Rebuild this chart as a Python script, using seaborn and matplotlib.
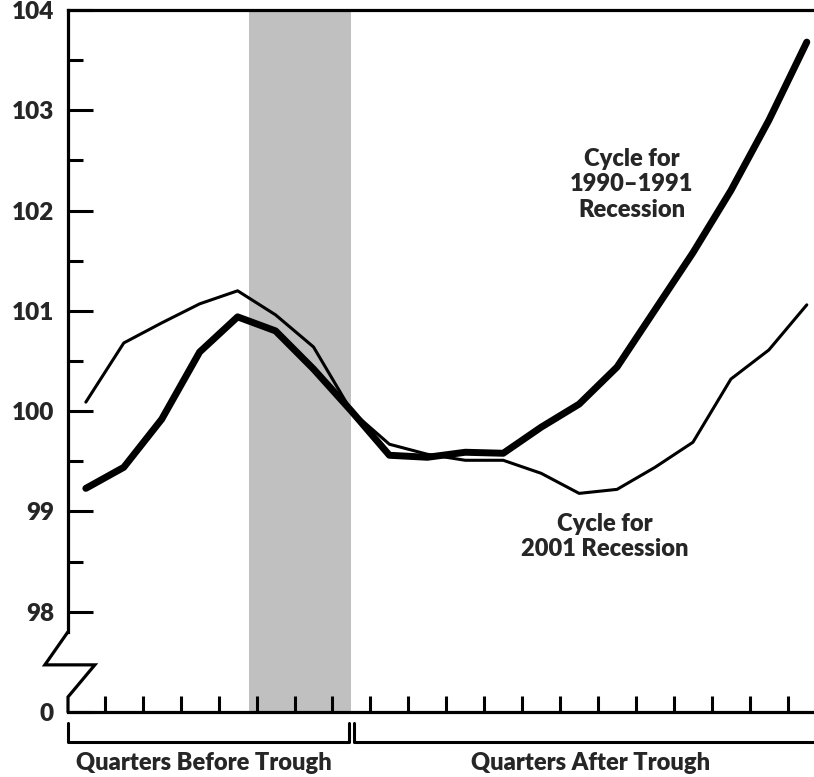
import numpy as np
import pandas as pd
import matplotlib
matplotlib.use("Agg")
import matplotlib.pyplot as plt
import seaborn as sns

# Quarters relative to the trough (0 = trough)
quarters = list(range(-7, 13))

# Index values (trough = 100)
cycle_1990 = [99.23, 99.44, 99.92, 100.59, 100.94, 100.80, 100.42, 100.00,
              99.56, 99.54, 99.59, 99.58, 99.84, 100.07, 100.44, 101.01,
              101.58, 102.20, 102.90, 103.68]
cycle_2001 = [100.09, 100.68, 100.88, 101.07, 101.20, 100.96, 100.64, 100.00,
              99.67, 99.57, 99.51, 99.51, 99.38, 99.18, 99.22, 99.44,
              99.69, 100.32, 100.61, 101.06]

# Shaded recession period (quarters before trough)
recession_span = [-2.7, 0]

# y axis: the bottom tick stands for 0 (broken axis)
y_ticks = [97, 98, 99, 100, 101, 102, 103, 104]
y_tick_labels = ['0', '98', '99', '100', '101', '102', '103', '104']

df = pd.DataFrame({'quarter': quarters, '1990': cycle_1990, '2001': cycle_2001})

sns.set_style("ticks")
plt.rcParams['font.family'] = ['Lato', 'DejaVu Sans']

TXT = dict(fontsize=17, fontweight='heavy')

fig = plt.figure(figsize=(8.14, 7.77), dpi=100)
ax = fig.add_axes([68 / 814, 65 / 777, 746 / 814, 702 / 777])

ax.axvspan(recession_span[0], recession_span[1], color='#c0c0c0', lw=0, zorder=0)

sns.lineplot(data=df, x='quarter', y='2001', ax=ax, color='black', lw=2.2, zorder=3)
sns.lineplot(data=df, x='quarter', y='1990', ax=ax, color='black', lw=5, zorder=4)

ax.set_xlim(-7.47, 12.19)
ax.set_ylim(97, 104)
ax.set_xlabel('')
ax.set_ylabel('')

# ticks
ax.set_xticks(np.arange(-6.5, 12, 1))
ax.set_xticklabels([])
ax.set_yticks(y_ticks)
ax.set_yticklabels(y_tick_labels, fontsize=17.5, fontweight='heavy')
ax.set_yticks(np.arange(98.5, 104, 1), minor=True)
ax.tick_params(axis='x', direction='in', length=11.5, width=2.2, color='black')
ax.tick_params(axis='y', which='major', direction='in', length=18, width=2.2, pad=10, color='black')
ax.tick_params(axis='y', which='minor', direction='in', length=11, width=2.2, color='black')

for side in ['left', 'top', 'bottom']:
    ax.spines[side].set_linewidth(2.3)
    ax.spines[side].set_color('black')
ax.spines['right'].set_visible(False)
ax.spines['left'].set_bounds(97.8, 104)

# axis break zigzag
ax.plot([0, -0.031, 0.036, 0, 0], [97.8, 97.47, 97.47, 97.15, 97.0],
        transform=ax.get_yaxis_transform(), color='black', lw=2.3,
        clip_on=False, solid_joinstyle='miter', zorder=5)

# brackets under the x axis
xt = ax.get_xaxis_transform()
ax.plot([-7.47, -7.47, -0.06, -0.06], [-0.016, -0.043, -0.043, -0.016],
        transform=xt, color='black', lw=2.2, clip_on=False)
ax.plot([0.07, 0.07, 12.19], [-0.016, -0.043, -0.043],
        transform=xt, color='black', lw=2.2, clip_on=False)
ax.text(-3.9, -0.073, 'Quarters Before Trough', transform=xt, ha='center', va='center', **TXT)
ax.text(6.3, -0.073, 'Quarters After Trough', transform=xt, ha='center', va='center', **TXT)

# series labels
ax.text(7.39, 102.26, 'Cycle for\n1990\u20131991\nRecession', ha='center', va='center', **TXT)
ax.text(6.68, 98.75, 'Cycle for\n2001 Recession', ha='center', va='center', **TXT)

fig.savefig('out.png', dpi=100)
